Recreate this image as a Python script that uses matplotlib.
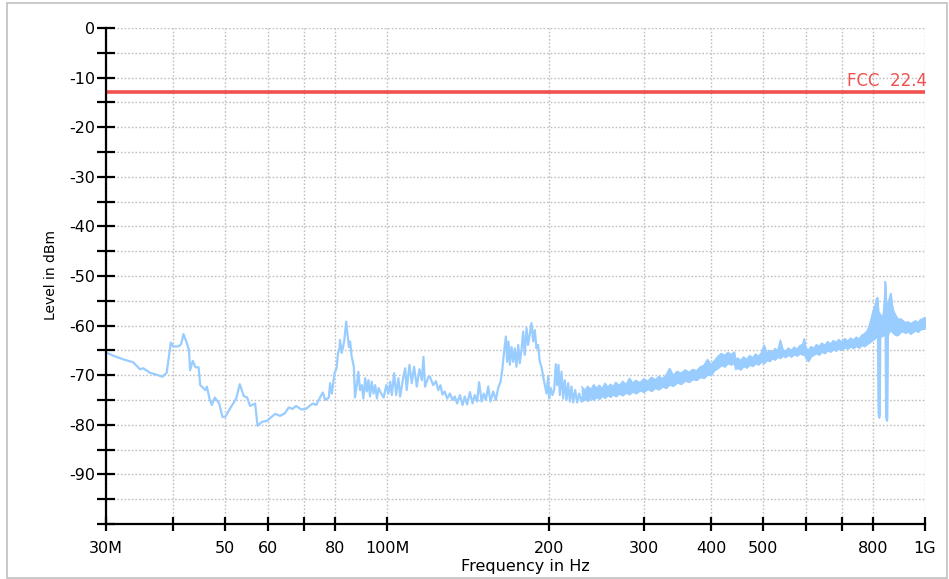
import matplotlib
matplotlib.use("Agg")
import matplotlib.pyplot as plt
from matplotlib.ticker import FixedLocator, FixedFormatter
from matplotlib.patches import Rectangle

# ---------------- data ----------------
trace_freq_mhz = [
    30.0, 31.0, 32.3, 33.7, 34.7, 35.2, 36.2, 37.5, 38.2, 38.9, 39.6, 40.0, 40.9, 41.4, 41.8,
    42.3, 42.8, 43.0, 43.5, 44.0, 44.6, 44.9, 45.9, 46.2, 46.8, 47.2, 47.8, 48.7, 49.4, 50.0,
    51.3, 52.4, 53.2, 54.1, 54.9, 55.6, 56.8, 57.4, 58.5, 59.8, 60.5, 61.9, 63.2, 64.5, 65.6,
    66.7, 67.7, 69.2, 70.6, 71.7, 72.7, 73.8, 75.0, 75.9, 76.7, 77.9, 78.3, 78.9, 79.8, 80.5,
    81.0, 81.5, 81.7, 82.3, 82.8, 83.2, 83.9, 84.4, 84.9, 85.3, 85.9, 86.7, 87.1, 87.7, 88.4,
    89.0, 89.7, 90.3, 91.0, 91.6, 92.3, 92.9, 93.6, 94.3, 95.0, 95.7, 96.4, 97.4, 98.5, 99.6,
    100.5, 101.3, 102.0, 103.0, 103.9, 104.9, 105.7, 106.9, 108.0, 108.7, 110.0, 111.1, 112.2,
    113.5, 114.8, 116.0, 116.8, 117.6, 119.3, 120.05, 121.75, 123.2, 124.4, 125.6, 126.7, 127.9,
    129.3, 130.8, 132.3, 133.6, 134.9, 136.5, 138.1, 139.4, 140.8, 142.5, 144.1, 145.5, 147.0,
    148.2, 149.8, 151.2, 152.55, 154.1, 155.6, 157.4, 159.2, 160.8, 162.5, 163.8, 164.7, 166.2,
    167.1, 168.1, 169.1, 170.3, 171.5, 172.7, 173.9, 175.2, 176.4, 177.7, 179.0, 180.2, 181.6,
    182.8, 184.2, 185.5, 186.8, 188.1, 189.5, 190.8, 192.2, 193.6, 195.0, 196.4, 197.8, 199.2,
    200.0, 201.5, 202.9, 204.4, 205.8, 207.0, 208.2, 209.4, 210.9, 212.4, 213.9, 215.5, 217.0,
    218.6, 220.1, 221.7, 223.6, 225.5, 227.4, 229.8, 232.0, 234.7,
]
trace_level_dbm = [
    -65.4, -66.1, -66.8, -67.4, -68.8, -68.6, -69.5, -70.0, -70.3, -69.5, -63.4, -64.2, -64.2, -63.7, -61.7,
    -63.2, -64.9, -69.0, -67.1, -68.4, -68.4, -72.0, -73.0, -72.3, -75.0, -76.0, -74.5, -75.7, -78.4, -78.4,
    -76.3, -74.7, -71.8, -74.2, -74.5, -76.2, -75.7, -80.2, -79.4, -79.2, -78.7, -77.8, -78.2, -77.7, -76.5,
    -76.8, -76.2, -76.9, -76.8, -76.2, -75.7, -76.0, -74.5, -73.5, -75.0, -74.5, -71.6, -73.7, -69.6, -68.6,
    -65.6, -64.6, -62.9, -65.5, -64.3, -63.0, -59.2, -61.9, -64.3, -63.2, -66.3, -68.3, -74.5, -72.3, -69.3,
    -73.0, -72.0, -74.7, -70.6, -73.3, -71.0, -74.3, -71.3, -73.7, -72.0, -74.7, -72.6, -73.7, -74.5, -72.0,
    -73.7, -71.3, -74.0, -69.6, -74.0, -70.6, -74.3, -71.0, -68.6, -73.0, -67.9, -71.6, -68.3,
    -72.3, -68.8, -71.0, -66.3, -72.3, -70.3, -70.3, -72.0, -71.2, -73.0, -72.0, -73.9, -73.3,
    -74.7, -73.7, -75.0, -74.3, -75.7, -74.0, -76.0, -74.3, -75.9, -73.4, -75.7, -74.0, -75.3,
    -71.4, -75.3, -73.7, -75.0, -72.3, -75.3, -73.3, -75.0, -72.6, -71.3, -68.6, -65.9, -62.2,
    -67.3, -63.2, -67.9, -64.3, -67.3, -64.6, -68.3, -63.9, -67.6, -64.9, -61.2, -65.9, -60.5,
    -63.9, -61.6, -59.5, -63.2, -60.9, -64.6, -63.9, -67.3, -68.3, -70.3, -72.0, -73.7, -70.3,
    -74.7, -72.6, -74.0, -73.0, -67.8, -72.0, -67.9, -74.0, -69.3, -74.7, -71.0, -75.0, -71.6,
    -75.3, -72.3, -75.5, -73.0, -75.5, -73.7, -75.3, -73.7, -75.0,
]

# dense part of the sweep (230 MHz - 1 GHz): upper and lower envelope of the trace
band_freq_mhz = [
    230, 233, 236, 239, 242, 245, 248, 251, 254, 257, 260, 263, 266, 270, 274, 278, 282, 286,
    290, 295, 300, 305, 310, 315, 320, 325, 330, 335, 340, 346, 352, 358, 364, 370, 376, 382,
    388, 394, 400, 406, 412, 418, 424, 430, 436, 442, 444, 448, 454, 460, 466, 472, 478, 484,
    490, 496, 502, 508, 514, 520, 526, 532, 538, 544, 550, 557, 564, 571, 578, 585, 592, 596,
    600, 607, 614, 621, 628, 635, 643, 651, 659, 667, 675, 683, 691, 700, 709, 718, 727, 736,
    745, 754, 763, 772, 781, 790, 797, 803, 808, 812, 816, 818, 820, 822, 824, 826, 830, 836,
    840, 843, 845, 847, 849, 851, 853, 856, 860, 864, 868, 872, 878, 885, 893, 901, 910, 920,
    930, 940, 950, 960, 970, 980, 990, 1000,
]
band_hi_dbm = [
    -72.3, -73.0, -72.2, -72.9, -71.9, -72.6, -72.0, -72.7, -71.6, -72.4, -71.8, -72.3, -71.4, -72.1, -71.2, -71.9, -70.6, -71.6,
    -71.0, -71.5, -70.7, -71.2, -70.4, -70.9, -70.2, -70.7, -69.9, -68.6, -70.0, -69.2, -69.6, -68.9, -69.4, -68.8, -69.1, -68.3,
    -68.0, -66.8, -67.9, -67.0, -66.2, -65.6, -66.0, -65.4, -65.8, -65.3, -66.8, -66.5, -67.0, -66.3, -66.8, -66.0, -66.5, -65.7,
    -66.2, -65.5, -63.9, -65.6, -65.0, -65.4, -64.6, -65.1, -62.9, -64.8, -65.2, -64.5, -65.0, -64.3, -64.8, -64.0, -63.8, -62.6,
    -64.5, -64.9, -64.2, -64.6, -63.8, -64.2, -63.5, -64.0, -63.2, -63.7, -63.0, -63.4, -62.8, -63.3, -62.6, -63.1, -62.5, -62.9,
    -62.3, -62.7, -61.9, -61.6, -61.0, -59.5, -57.8, -56.5, -55.8, -54.6, -54.3, -56.0, -57.5, -58.0, -57.5, -58.2, -58.0, -57.8,
    -55.0, -51.1, -52.0, -55.0, -56.0, -56.0, -55.5, -55.0, -54.0, -53.5, -55.5, -56.8, -57.5, -58.2, -58.8, -58.6, -59.0, -59.4,
    -59.2, -59.6, -59.3, -59.0, -59.4, -58.8, -58.6, -58.3,
]
band_lo_dbm = [
    -75.3, -74.8, -75.2, -74.6, -75.0, -74.4, -74.8, -74.2, -74.6, -74.0, -74.4, -73.9, -74.3, -73.7, -74.1, -73.5, -73.9, -73.3,
    -73.7, -73.1, -73.4, -72.8, -73.2, -72.6, -72.9, -72.3, -72.6, -71.9, -72.2, -71.5, -71.8, -71.1, -71.4, -70.8, -71.0, -70.4,
    -70.6, -69.9, -70.0, -69.0, -68.6, -68.0, -68.3, -67.6, -67.9, -67.5, -68.8, -68.5, -68.9, -68.2, -68.5, -67.9, -68.2, -67.6,
    -67.9, -67.3, -67.6, -67.0, -67.2, -66.6, -66.9, -66.3, -66.6, -66.1, -66.4, -65.9, -66.3, -65.8, -66.1, -65.6, -65.9, -65.7,
    -66.5, -67.2, -66.2, -65.9, -65.6, -65.9, -65.3, -65.6, -65.0, -65.3, -64.8, -65.1, -64.6, -64.9, -64.4, -64.7, -64.2, -64.6,
    -64.1, -64.5, -63.9, -64.2, -63.7, -63.4, -63.0, -62.8, -62.5, -62.3, -62.0, -77.5, -78.4, -78.6, -78.0, -62.2, -62.2, -62.0,
    -61.7, -61.5, -78.5, -79.0, -79.2, -78.8, -62.0, -61.5, -61.0, -61.0, -61.3, -61.5, -61.8, -62.0, -61.8, -61.3, -61.2, -61.5,
    -61.2, -61.7, -61.3, -61.0, -61.3, -60.8, -60.7, -60.6,
]

limit_level_dbm = -13.0
limit_label = "FCC  22.4"

x_ticks = [30, 40, 50, 60, 70, 80, 100, 200, 300, 400, 500, 600, 700, 800, 1000]
x_tick_labels = ["30M", "", "50", "60", "", "80", "100M", "200", "300", "400", "500", "", "", "800", "1G"]
y_major = [0, -10, -20, -30, -40, -50, -60, -70, -80, -90, -100]
y_major_labels = ["0", "-10", "-20", "-30", "-40", "-50", "-60", "-70", "-80", "-90", ""]
y_minor = [-5, -15, -25, -35, -45, -55, -65, -75, -85, -95]

# ---------------- figure ----------------
plt.rcParams["font.family"] = ["DejaVu Sans"]
W, H = 949, 579
fig = plt.figure(figsize=(W / 100, H / 100), dpi=100)
fig.patch.set_facecolor("white")

# outer light frame
fig.add_artist(Rectangle((7 / W, 1 / H), (W - 9) / W, (H - 4) / H, transform=fig.transFigure,
                         fill=False, edgecolor="#c0c0c0", linewidth=1.2))

ax = fig.add_axes([106 / W, 1 - 524 / H, 819 / W, 496 / H])
ax.set_xscale("log")
ax.set_xlim(30, 1000)
ax.set_ylim(-100, 0)

trace_col = "#99ccff"
ax.fill_between(band_freq_mhz, band_lo_dbm, band_hi_dbm, color=trace_col, linewidth=0.8, zorder=3)
ax.plot(band_freq_mhz, band_hi_dbm, color=trace_col, lw=0.9, zorder=3)
ax.plot(band_freq_mhz, band_lo_dbm, color=trace_col, lw=0.9, zorder=3)
ax.plot(trace_freq_mhz, trace_level_dbm, color=trace_col, lw=1.6, zorder=3)

ax.plot([30, 1000], [limit_level_dbm, limit_level_dbm], color="#f05050", lw=2.6, zorder=4,
        solid_capstyle="butt")
ax.text(1008, limit_level_dbm + 0.6, limit_label, color="#f05050", fontsize=12,
        ha="right", va="bottom", zorder=5)

ax.xaxis.set_major_locator(FixedLocator(x_ticks))
ax.xaxis.set_major_formatter(FixedFormatter(x_tick_labels))
ax.xaxis.set_minor_locator(FixedLocator([]))
ax.yaxis.set_major_locator(FixedLocator(y_major))
ax.yaxis.set_major_formatter(FixedFormatter(y_major_labels))
ax.yaxis.set_minor_locator(FixedLocator(y_minor))

grid_kw = dict(color="#c0c0c0", linestyle=(0, (1.2, 1.4)), linewidth=1.0)
ax.grid(True, axis="x", which="major", **grid_kw)
ax.grid(True, axis="y", which="both", **grid_kw)
ax.set_axisbelow(True)

for s in ["top", "right"]:
    ax.spines[s].set_visible(False)
for s in ["left", "bottom"]:
    ax.spines[s].set_linewidth(1.6)
    ax.spines[s].set_color("black")
    ax.spines[s].set_zorder(6)

ax.tick_params(axis="y", which="both", direction="inout", length=13, width=1.6, pad=1,
               labelsize=11.5, colors="black")
ax.tick_params(axis="x", which="major", direction="inout", length=10, width=1.6, pad=7,
               labelsize=11.5, colors="black")

fig.text(525 / W, 1 - 567 / H, "Frequency in Hz", fontsize=11.5, ha="center", va="center")
fig.text(51 / W, 1 - 275 / H, "Level in dBm", fontsize=10, ha="center", va="center", rotation=90)

fig.savefig("out.png", dpi=100, facecolor="white")
